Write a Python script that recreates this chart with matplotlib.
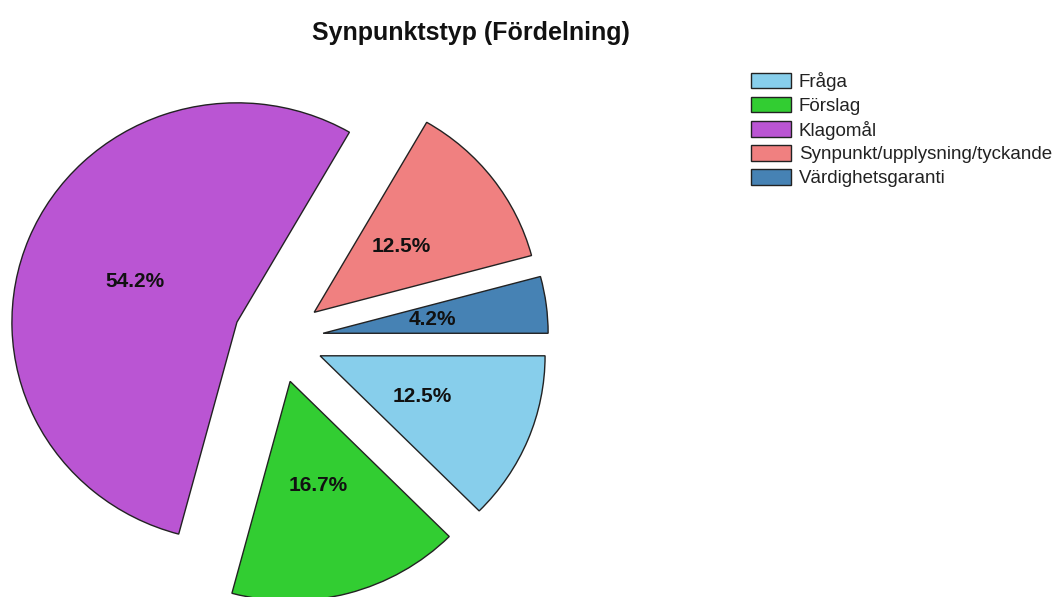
import matplotlib
matplotlib.use("Agg")
import matplotlib.pyplot as plt

categories = ["Fråga", "Förslag", "Klagomål", "Synpunkt/upplysning/tyckande", "Värdighetsgaranti"]
counts = [3, 4, 13, 3, 1]
colors = ["#87CEEB", "#32CD32", "#BA55D3", "#F08080", "#4682B4"]
title = "Synpunktstyp (Fördelning)"

plt.rcParams['font.family'] = ['Liberation Sans', 'DejaVu Sans']

W, H = 1060, 597
fig = plt.figure(figsize=(W / 100, H / 100), dpi=100)
ax = fig.add_axes([0, 0, 1, 1])

RX = 225.0
RY = 225.0 * 0.975
cx, cy = 278.5, 339.0
wedges, texts, autotexts = ax.pie(
    counts, colors=colors, explode=[0.2] * len(counts), startangle=0,
    counterclock=False, autopct='%.1f%%', pctdistance=0.49,
    wedgeprops=dict(edgecolor='#222222', linewidth=1.0),
    textprops=dict(fontsize=15, fontweight='bold', color='#111111'))

ax.set_aspect('auto')
ax.set_xlim(-cx / RX, (W - cx) / RX)
ax.set_ylim(-(H - cy) / RY, cy / RY)
ax.axis('off')

fig.text(471 / W, 1 - 33 / H, title, ha='center', va='center',
         fontsize=18, fontweight='bold', color='#111111')

leg = fig.legend(wedges, categories, loc='upper left',
                 bbox_to_anchor=(751 / W, 1 - 72 / H), bbox_transform=fig.transFigure,
                 frameon=False, fontsize=13.5, handlelength=2.15, handleheight=0.9,
                 handletextpad=0.4, labelspacing=0.3, borderpad=0, borderaxespad=0)
for t in leg.get_texts():
    t.set_color('#222222')

fig.savefig("out.png", dpi=100)
